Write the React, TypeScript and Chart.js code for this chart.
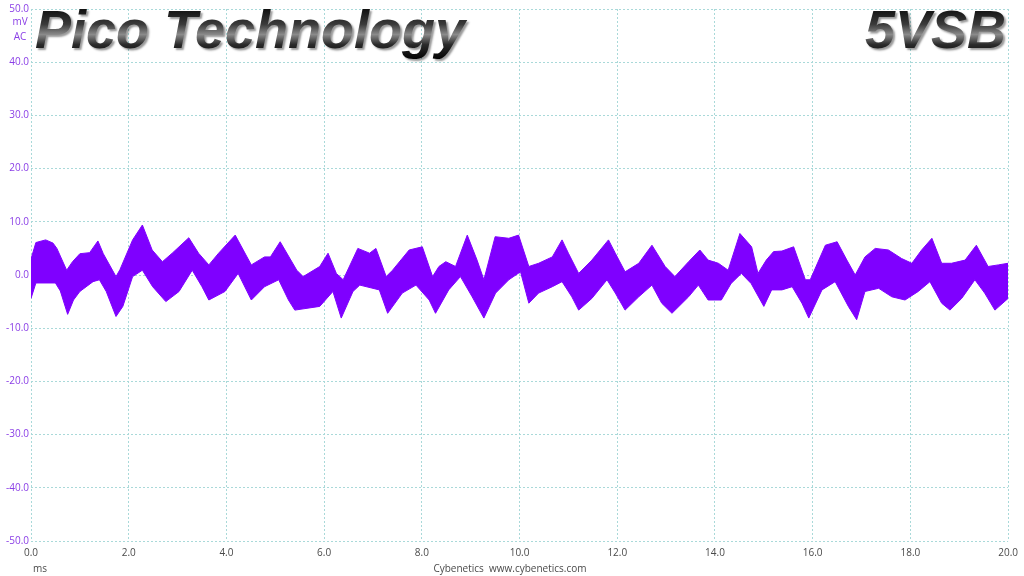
import React, { useEffect, useRef } from "react";
import { Chart, registerables } from "chart.js";

Chart.register(...registerables);

const upperTime = [0.0, 0.1, 0.3, 0.45, 0.53, 0.73, 0.85, 1.0, 1.2, 1.37, 1.48, 1.74, 1.82, 2.08, 2.28, 2.48, 2.69, 2.89, 3.23, 3.43, 3.64, 3.84, 4.18, 4.51, 4.78, 4.9, 5.1, 5.44, 5.57, 5.91, 6.08, 6.25, 6.39, 6.69, 6.93, 7.06, 7.27, 7.4, 7.74, 8.01, 8.22, 8.35, 8.49, 8.69, 8.93, 9.13, 9.27, 9.5, 9.78, 9.98, 10.19, 10.39, 10.67, 10.87, 11.0, 11.21, 11.48, 11.82, 11.96, 12.16, 12.44, 12.71, 12.98, 13.18, 13.46, 13.69, 13.86, 14.07, 14.27, 14.51, 14.75, 14.88, 15.05, 15.2, 15.37, 15.61, 15.85, 15.95, 16.26, 16.5, 16.7, 16.87, 17.07, 17.28, 17.55, 17.82, 18.03, 18.23, 18.44, 18.64, 18.84, 19.12, 19.35, 19.59, 19.8, 20.0];
const upperMv = [3.0, 6.1, 6.6, 6.0, 5.0, 0.9, 2.5, 4.0, 4.2, 6.4, 4.0, -0.3, 1.0, 6.6, 9.4, 4.7, 2.5, 4.1, 7.0, 4.1, 1.9, 4.1, 7.5, 1.9, 3.4, 3.4, 6.25, 0.9, -0.3, 1.6, 4.1, 0.3, -0.9, 5.0, 4.1, 5.0, -0.3, 0.9, 4.7, 5.3, -0.3, 1.6, 2.5, 1.6, 7.5, 2.8, -0.9, 7.2, 6.9, 7.5, 1.6, 2.2, 3.4, 6.6, 4.1, 0.3, 2.8, 6.6, 4.1, 0.6, 2.2, 5.6, 1.6, -0.3, 2.5, 4.7, 2.8, 2.2, 0.9, 7.8, 5.3, 0.3, 2.8, 4.4, 4.5, 5.3, -0.9, -0.9, 5.6, 6.25, 2.8, 0.0, 3.4, 5.0, 4.7, 3.1, 2.2, 4.7, 6.9, 2.2, 2.2, 2.8, 5.6, 1.6, 1.9, 2.2];

const lowerTime = [0.0, 0.1, 0.5, 0.6, 0.75, 0.87, 1.0, 1.27, 1.4, 1.54, 1.74, 1.88, 2.08, 2.28, 2.49, 2.76, 3.03, 3.3, 3.5, 3.64, 3.97, 4.24, 4.51, 4.78, 5.07, 5.27, 5.4, 5.91, 6.18, 6.35, 6.59, 6.73, 7.13, 7.3, 7.6, 7.88, 8.15, 8.28, 8.55, 8.79, 9.03, 9.27, 9.51, 9.78, 10.02, 10.19, 10.39, 10.67, 10.87, 11.07, 11.21, 11.48, 11.79, 11.96, 12.16, 12.44, 12.71, 12.91, 13.12, 13.46, 13.66, 13.86, 14.13, 14.33, 14.54, 14.74, 15.0, 15.16, 15.37, 15.58, 15.78, 15.92, 16.19, 16.46, 16.73, 16.9, 17.07, 17.35, 17.62, 17.89, 18.16, 18.4, 18.64, 18.81, 19.05, 19.32, 19.52, 19.73, 20.0];
const lowerMv = [-4.4, -1.5, -1.5, -3.0, -7.4, -4.7, -3.1, -1.25, -0.9, -3.1, -7.8, -5.9, -0.3, 0.9, -2.2, -5.0, -3.1, 0.9, -2.2, -4.7, -3.1, 0.3, -4.7, -2.2, -0.9, -4.7, -6.6, -5.9, -3.1, -8.1, -3.1, -1.9, -2.8, -7.2, -3.4, -1.9, -4.7, -7.2, -2.8, -0.3, -4.1, -8.1, -3.4, -0.9, 0.6, -5.3, -3.4, -2.2, -1.25, -4.1, -6.6, -4.4, -0.9, -3.4, -6.6, -4.1, -1.9, -5.3, -7.2, -4.1, -1.9, -4.7, -4.7, -1.6, 0.3, -1.6, -5.9, -2.8, -2.8, -2.2, -5.3, -8.1, -2.8, -1.25, -5.9, -8.4, -3.1, -2.5, -4.1, -4.7, -3.1, -1.25, -5.3, -6.6, -4.4, -0.9, -3.4, -6.6, -4.4];

const xTicks = [0, 2, 4, 6, 8, 10, 12, 14, 16, 18, 20];
const yTicks = [-50, -40, -30, -20, -10, 0, 10, 20, 30, 40, 50];
const titleLeft = "Pico Technology";
const titleRight = "5VSB";
const yUnit = ["mV", "AC"];
const xUnit = "ms";
const footer = "Cybenetics  www.cybenetics.com";

const WAVE = "#7f00ff";
const GRID = "#a9d9d9";
const YLAB = "#8a3ee6";
const XLAB = "#4a4a4a";

const overlay = {
  id: "overlay",
  afterDraw(chart: any) {
    const ctx = chart.ctx;
    ctx.save();
    ctx.font = "10px 'Open Sans', sans-serif";
    ctx.fillStyle = YLAB;
    ctx.textAlign = "center";
    ctx.textBaseline = "middle";
    ctx.fillText(yUnit[0], 20, 22);
    ctx.fillText(yUnit[1], 20, 37);
    ctx.fillStyle = XLAB;
    ctx.textAlign = "left";
    ctx.fillText(xUnit, 33, 569);
    ctx.textAlign = "center";
    ctx.fillText(footer, 510, 569);

    const drawTitle = (text: string, x: number, align: CanvasTextAlign) => {
      ctx.font = "italic bold 54px 'Liberation Sans', Arial, sans-serif";
      ctx.textAlign = align;
      ctx.textBaseline = "alphabetic";
      const g = ctx.createLinearGradient(0, 9, 0, 60);
      g.addColorStop(0, "#111");
      g.addColorStop(0.3, "#3a3a3a");
      g.addColorStop(0.5, "#8a8a8a");
      g.addColorStop(0.7, "#2a2a2a");
      g.addColorStop(1, "#000");
      ctx.shadowColor = "rgba(0,0,0,0.4)";
      ctx.shadowOffsetX = 2;
      ctx.shadowOffsetY = 2;
      ctx.shadowBlur = 2;
      ctx.fillStyle = g;
      ctx.fillText(text, x, 48);
      ctx.shadowColor = "transparent";
    };
    drawTitle(titleLeft, 35, "left");
    drawTitle(titleRight, 1006, "right");
    ctx.restore();
  },
};

export default function App() {
  const ref = useRef<HTMLCanvasElement>(null);
  useEffect(() => {
    if (!ref.current) return;
    const chart = new Chart(ref.current, {
      type: "line",
      data: {
        datasets: [
          {
            data: upperTime.map((t, i) => ({ x: t, y: upperMv[i] })),
            borderColor: WAVE,
            backgroundColor: WAVE,
            borderWidth: 1,
            pointRadius: 0,
            tension: 0,
            fill: "+1",
          },
          {
            data: lowerTime.map((t, i) => ({ x: t, y: lowerMv[i] })),
            borderColor: WAVE,
            backgroundColor: WAVE,
            borderWidth: 1,
            pointRadius: 0,
            tension: 0,
            fill: false,
          },
        ],
      },
      options: {
        animation: false,
        responsive: false,
        layout: { padding: { top: 9, right: 14, left: 0, bottom: 0 } },
        plugins: { legend: { display: false }, tooltip: { enabled: false } },
        scales: {
          x: {
            type: "linear",
            min: 0,
            max: 20,
            afterFit(s: any) { s.height = 35; },
            afterBuildTicks(s: any) { s.ticks = xTicks.map((v) => ({ value: v })); },
            ticks: {
              padding: 6,
              color: XLAB,
              font: { family: "'Open Sans', sans-serif", size: 10 },
              maxRotation: 0,
              callback: (v: any) => Number(v).toFixed(1),
            },
            grid: { color: GRID, lineWidth: 1, drawTicks: false },
            border: { display: false, dash: [2, 2] },
          },
          y: {
            type: "linear",
            min: -50,
            max: 50,
            afterFit(s: any) { s.width = 31; },
            afterBuildTicks(s: any) { s.ticks = yTicks.map((v) => ({ value: v })); },
            ticks: {
              padding: 2,
              color: YLAB,
              font: { family: "'Open Sans', sans-serif", size: 10 },
              callback: (v: any) => Number(v).toFixed(1),
            },
            grid: { color: GRID, lineWidth: 1, drawTicks: false },
            border: { display: false, dash: [2, 2] },
          },
        },
      },
      plugins: [overlay],
    } as any);
    return () => chart.destroy();
  }, []);
  return (
    <div style={{ position: "fixed", left: 0, top: 0, width: 1024, height: 576, background: "#fff" }}>
      <canvas ref={ref} width={1024} height={576} style={{ display: "block" }} />
    </div>
  );
}
